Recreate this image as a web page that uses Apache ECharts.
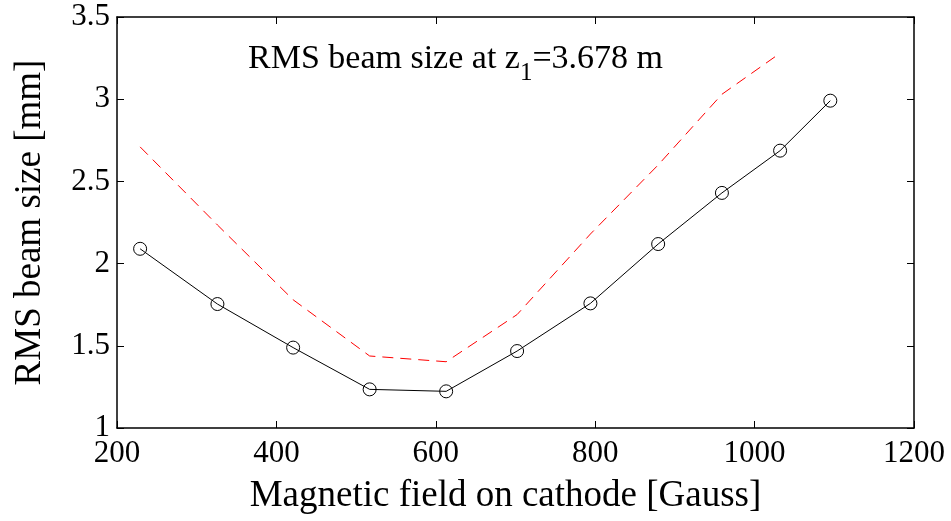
<!DOCTYPE html>
<html>
<head>
<meta charset="utf-8">
<script src="https://cdn.jsdelivr.net/npm/echarts@6/dist/echarts.min.js"></script>
<style>
  html, body { margin: 0; padding: 0; background: #fff; }
  #chart { width: 951px; height: 521px; }
</style>
</head>
<body>
<div id="chart"></div>
<script>
const FONT = "Liberation Serif";

// magnetic field on cathode [Gauss]
const fieldGauss = [229, 326, 421, 517, 613, 702, 794, 879, 959, 1032, 1095];
// black line with circles
const rmsMeasured = [2.09, 1.754, 1.489, 1.235, 1.223, 1.468, 1.758, 2.119, 2.43, 2.687, 2.991];
// red dashed line (one point fewer)
const rmsDashed = [2.71, 2.235, 1.78, 1.438, 1.403, 1.69, 2.18, 2.6, 3.03, 3.28];

const xTicks = { min: 200, max: 1200, interval: 200 };
const yTicks = { min: 1, max: 3.5, interval: 0.5 };

const chart = echarts.init(document.getElementById("chart"));

const pairs = (xs, ys) => ys.map((y, i) => [xs[i], y]);

const axisLine = { show: true, lineStyle: { color: "#000", width: 1.5 } };
const tick = { show: true, inside: true, length: 7, lineStyle: { color: "#000", width: 1 } };
const label = { color: "#000", fontFamily: FONT, fontSize: 31 };
const nameStyle = { color: "#000", fontFamily: FONT, fontSize: 37 };

chart.setOption({
  animation: false,
  backgroundColor: "#fff",
  title: {
    text: "{a|RMS beam size at z}{s|1}{a|=3.678 m}",
    left: 243,
    top: 37,
    textStyle: {
      fontWeight: "normal",
      rich: {
        a: { fontFamily: FONT, fontSize: 34, fontWeight: "normal", color: "#000", verticalAlign: "bottom" },
        s: { fontFamily: FONT, fontSize: 25, fontWeight: "normal", color: "#000", verticalAlign: "bottom", padding: [0, 0, -10, 0] }
      }
    }
  },
  grid: { left: 117, right: 37, top: 17, bottom: 93, outerBoundsMode: "none" },
  xAxis: [
    {
      type: "value",
      min: xTicks.min, max: xTicks.max, interval: xTicks.interval,
      name: "Magnetic field on cathode [Gauss]",
      nameLocation: "middle",
      nameGap: 50,
      nameTextStyle: Object.assign({ padding: [0, 20, 0, 0] }, nameStyle),
      axisLine, axisTick: tick,
      axisLabel: Object.assign({ margin: 10, formatter: v => String(v) }, label),
      splitLine: { show: false }
    },
    {
      type: "value", position: "top",
      min: xTicks.min, max: xTicks.max, interval: xTicks.interval,
      axisLine, axisTick: tick, axisLabel: { show: false }, splitLine: { show: false }
    }
  ],
  yAxis: [
    {
      type: "value",
      min: yTicks.min, max: yTicks.max, interval: yTicks.interval,
      name: "RMS beam size [mm]",
      nameLocation: "middle",
      nameGap: 68,
      nameTextStyle: nameStyle,
      axisLine, axisTick: tick,
      axisLabel: Object.assign({ margin: 7 }, label),
      splitLine: { show: false }
    },
    {
      type: "value", position: "right",
      min: yTicks.min, max: yTicks.max, interval: yTicks.interval,
      axisLine, axisTick: tick, axisLabel: { show: false }, splitLine: { show: false }
    }
  ],
  series: [
    {
      type: "line",
      data: pairs(fieldGauss, rmsDashed),
      symbol: "none",
      lineStyle: { color: "#ff0000", width: 1, type: [11, 7] }
    },
    {
      type: "line",
      data: pairs(fieldGauss, rmsMeasured),
      symbol: "circle",
      symbolSize: 13,
      itemStyle: { color: "rgba(0,0,0,0)", borderColor: "#000", borderWidth: 1 },
      lineStyle: { color: "#000", width: 1 }
    }
  ]
});
</script>
</body>
</html>
